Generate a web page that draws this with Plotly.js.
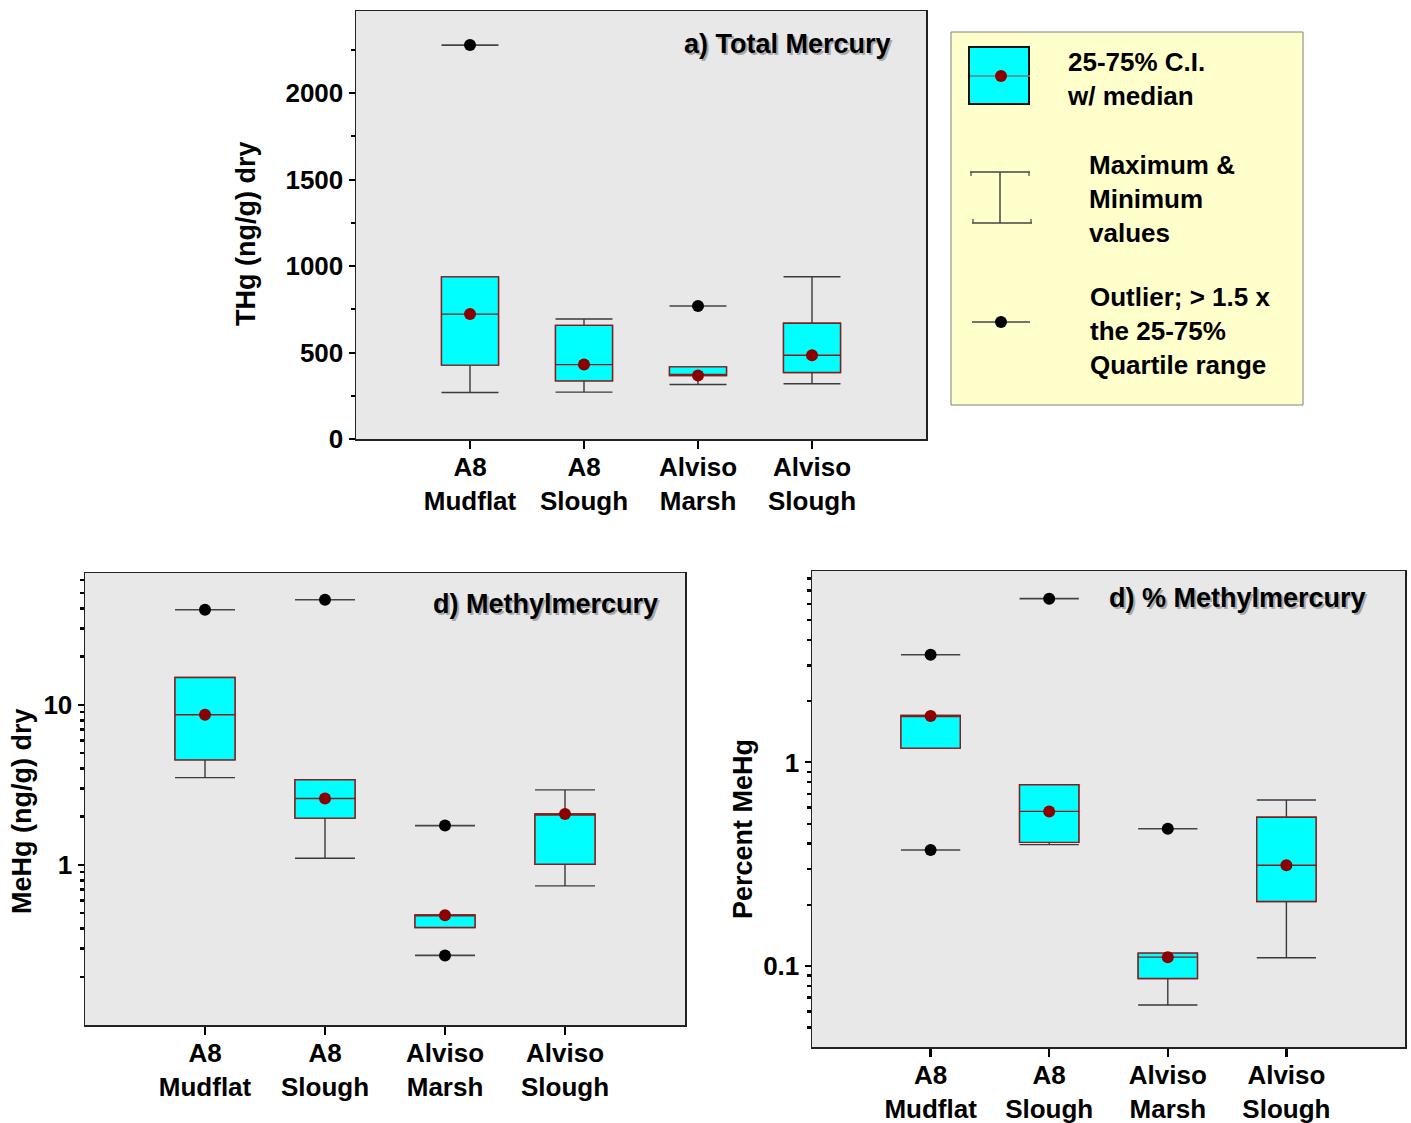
<!DOCTYPE html>
<html>
<head>
<meta charset="utf-8">
<script src="https://cdn.plot.ly/plotly-3.0.1.min.js"></script>
<style>html,body{margin:0;padding:0;background:#fff;}#chart{width:1411px;height:1123px;}</style>
</head>
<body>
<div id="chart"></div>
<script>
// ---------- DATA ----------
const categories = ['A8 Mudflat', 'A8 Slough', 'Alviso Marsh', 'Alviso Slough'];

// a) Total Mercury, THg (ng/g) dry
const thgMin = [269, 271, 315, 319];
const thgQ1  = [427, 336, 367, 384];
const thgMed = [722, 430, 367, 484];
const thgQ3  = [937, 657, 417, 669];
const thgMax = [937, 694, 417, 938];
const thgOutCat = ['A8 Mudflat', 'Alviso Marsh'];
const thgOutVal = [2277, 769];

// d) Methylmercury, MeHg (ng/g) dry
const mehgMin = [3.51, 1.10, 0.406, 0.739];
const mehgQ1  = [4.53, 1.96, 0.406, 1.01];
const mehgMed = [8.66, 2.60, 0.485, 2.08];
const mehgQ3  = [14.8, 3.40, 0.487, 2.08];
const mehgMax = [14.8, 3.40, 0.487, 2.94];
const mehgOutCat = ['A8 Mudflat', 'A8 Slough', 'Alviso Marsh', 'Alviso Marsh'];
const mehgOutVal = [39.2, 45.3, 1.76, 0.272];

// d) % Methylmercury
const pctMin = [1.176, 0.395, 0.0644, 0.110];
const pctQ1  = [1.176, 0.405, 0.087, 0.2075];
const pctMed = [1.69, 0.575, 0.1107, 0.313];
const pctQ3  = [1.70, 0.777, 0.1158, 0.538];
const pctMax = [1.70, 0.777, 0.1158, 0.654];
const pctOutCat = ['A8 Mudflat', 'A8 Mudflat', 'A8 Slough', 'Alviso Marsh'];
const pctOutVal = [3.38, 0.372, 6.37, 0.473];

// Axis tick labels
const thgTicks = [0, 500, 1000, 1500, 2000];
const mehgTicks = [1, 10];
const pctTicks = [0.1, 1];
const panelTitles = ['a) Total Mercury', 'd) Methylmercury', 'd) % Methylmercury'];
const yTitles = ['THg (ng/g) dry', 'MeHg (ng/g) dry', 'Percent MeHg'];
const legendLabels = ['25-75% C.I.<br>w/ median', 'Maximum &<br>Minimum<br>values', 'Outlier; > 1.5 x<br>the 25-75%<br>Quartile range'];

// ---------- HELPERS ----------
const W = 1411, H = 1123;
const px = x => x / W;
const py = y => 1 - y / H;
const FONT = 'Liberation Sans, Arial, sans-serif';
const FS = 26;
const idx = categories.map((c, i) => i);
const tickText = categories.map(c => c.replace(' ', '<br>'));
const CYAN = '#00FFFF', DARKRED = '#8B0000';

function boxTraces(xa, ya, q1, med, q3, lo, hi, outCat, outVal) {
  return [
    { // whiskers
      type: 'box', xaxis: xa, yaxis: ya, x: idx, q1: q1, median: med, q3: q3,
      lowerfence: lo, upperfence: hi, width: 0.5, whiskerwidth: 1,
      fillcolor: 'rgba(0,0,0,0)', line: {color: '#3a3a3a', width: 1.4},
      boxpoints: false, showlegend: false, hoverinfo: 'skip'
    },
    { // box
      type: 'box', xaxis: xa, yaxis: ya, x: idx, q1: q1, median: med, q3: q3,
      lowerfence: q1, upperfence: q3, width: 0.5, whiskerwidth: 0,
      fillcolor: CYAN, line: {color: '#8B1A1A', width: 1.4},
      boxpoints: false, showlegend: false
    },
    { // median dots
      type: 'scatter', mode: 'markers', xaxis: xa, yaxis: ya, x: idx, y: med,
      marker: {color: DARKRED, size: 12}, showlegend: false
    },
    { // outliers
      type: 'scatter', mode: 'markers', xaxis: xa, yaxis: ya,
      x: outCat.map(c => categories.indexOf(c)), y: outVal,
      marker: {color: '#000', size: 12},
      error_x: {type: 'constant', value: 0.25, width: 0, color: '#444', thickness: 1.6},
      showlegend: false
    }
  ];
}

const data = [].concat(
  boxTraces('x', 'y', thgQ1, thgMed, thgQ3, thgMin, thgMax, thgOutCat, thgOutVal),
  boxTraces('x2', 'y2', mehgQ1, mehgMed, mehgQ3, mehgMin, mehgMax, mehgOutCat, mehgOutVal),
  boxTraces('x3', 'y3', pctQ1, pctMed, pctQ3, pctMin, pctMax, pctOutCat, pctOutVal)
);

function minorLog(lo, hi) {
  const v = [];
  for (let d = -3; d <= 3; d++) for (let m = 2; m <= 9; m++) {
    const t = m * Math.pow(10, d);
    if (t > lo && t < hi) v.push(t);
  }
  return v;
}

const tickFont = {family: FONT, size: FS, color: '#000', weight: 700};
function xAxis(domain, anchor) {
  return {
    domain: domain, anchor: anchor, range: [-1, 4], tickmode: 'array', tickvals: idx, ticktext: tickText,
    ticks: 'outside', ticklen: 8, tickwidth: 2.5, tickcolor: '#000', tickfont: tickFont,
    ticklabelstandoff: -4,
    showline: true, linecolor: '#222', linewidth: 1.5, mirror: true,
    showgrid: false, zeroline: false, fixedrange: true
  };
}
function yAxisBase(domain, anchor) {
  return {
    domain: domain, anchor: anchor, ticks: 'outside', ticklen: 6, tickwidth: 2, tickcolor: '#000',
    tickfont: tickFont, showline: true, linecolor: '#222', linewidth: 1.5, mirror: true,
    showgrid: false, zeroline: false, fixedrange: true
  };
}

const layout = {
  width: W, height: H, margin: {l: 0, r: 0, t: 0, b: 0},
  paper_bgcolor: '#fff', plot_bgcolor: '#E8E8E8',
  font: {family: FONT, size: FS, color: '#000', weight: 700},
  boxmode: 'overlay', showlegend: false,
  xaxis: xAxis([px(356), px(926)], 'y'),
  yaxis: Object.assign(yAxisBase([py(439), py(11)], 'x'), {
    range: [0, 2474], tickmode: 'array', tickvals: thgTicks,
    minor: {tickmode: 'linear', tick0: 0, dtick: 250, ticks: 'outside', ticklen: 4, tickwidth: 2, tickcolor: '#000', showgrid: false}
  }),
  xaxis2: xAxis([px(85), px(685)], 'y2'),
  yaxis2: Object.assign(yAxisBase([py(1025), py(573)], 'x2'), {
    type: 'log', range: [-1, 1.823], tickmode: 'array', tickvals: mehgTicks,
    minor: {tickmode: 'array', tickvals: minorLog(0.1, 66), ticks: 'outside', ticklen: 4, tickwidth: 2.5, tickcolor: '#000', showgrid: false}
  }),
  xaxis3: xAxis([px(812), px(1405)], 'y3'),
  yaxis3: Object.assign(yAxisBase([py(1047), py(571)], 'x3'), {
    type: 'log', range: [-1.397, 0.94], tickmode: 'array', tickvals: pctTicks, ticktext: ['0.1', '1'],
    minor: {tickmode: 'array', tickvals: minorLog(0.04, 8.7), ticks: 'outside', ticklen: 4, tickwidth: 2.5, tickcolor: '#000', showgrid: false}
  }),
  shapes: [],
  annotations: []
};

// Panel titles (with soft shadow)
const titlePos = [[893, 44], [660, 604], [1368, 598]];
panelTitles.forEach((t, i) => {
  const [x, y] = titlePos[i];
  layout.annotations.push({xref: 'paper', yref: 'paper', x: px(x + 2), y: py(y + 2), text: t, showarrow: false,
    xanchor: 'right', yanchor: 'middle', font: {family: FONT, size: 27, color: '#a8a8a8', weight: 700}});
  layout.annotations.push({xref: 'paper', yref: 'paper', x: px(x), y: py(y), text: t, showarrow: false,
    xanchor: 'right', yanchor: 'middle', font: {family: FONT, size: 27, color: '#000', weight: 700}});
});

// Y axis titles
const yTitlePos = [[246, 234], [22, 812], [743, 829]];
yTitles.forEach((t, i) => {
  const [x, y] = yTitlePos[i];
  layout.annotations.push({xref: 'paper', yref: 'paper', x: px(x), y: py(y), text: t, showarrow: false,
    textangle: -90, xanchor: 'center', yanchor: 'middle', font: {family: FONT, size: 27, color: '#000', weight: 700}});
});

// Legend box
const S = layout.shapes;
const line = (x0, y0, x1, y1, c, w) => S.push({type: 'line', xref: 'paper', yref: 'paper', x0: px(x0), y0: py(y0), x1: px(x1), y1: py(y1), line: {color: c, width: w}});
S.push({type: 'rect', xref: 'paper', yref: 'paper', x0: px(951), y0: py(405), x1: px(1303), y1: py(32), fillcolor: '#FFFFCC', line: {color: '#7f7f7f', width: 1}, layer: 'below'});
S.push({type: 'rect', xref: 'paper', yref: 'paper', x0: px(969), y0: py(104), x1: px(1029), y1: py(47), fillcolor: CYAN, line: {color: '#111', width: 2}});
line(970, 76, 1030, 76, '#7a7a7a', 1.5);
S.push({type: 'circle', xref: 'paper', yref: 'paper', x0: px(995), y0: py(82), x1: px(1007), y1: py(70), fillcolor: DARKRED, line: {color: DARKRED, width: 0}});
line(1000, 172, 1000, 223, '#444', 1.5);
line(970, 172, 1030, 172, '#444', 1.5);
line(972, 223, 1032, 223, '#444', 1.5);
line(971, 172, 971, 176, '#444', 1.2);
line(1029, 172, 1029, 176, '#444', 1.2);
line(973, 219, 973, 223, '#444', 1.2);
line(1031, 219, 1031, 223, '#444', 1.2);
line(972, 322, 1030, 322, '#444', 1.5);
S.push({type: 'circle', xref: 'paper', yref: 'paper', x0: px(995), y0: py(328), x1: px(1007), y1: py(316), fillcolor: '#000', line: {color: '#000', width: 0}});

const legPos = [[1065, 79], [1087, 199], [1088, 331]];
legendLabels.forEach((t, i) => {
  const [x, y] = legPos[i];
  layout.annotations.push({xref: 'paper', yref: 'paper', x: px(x), y: py(y), text: t, showarrow: false,
    xanchor: 'left', yanchor: 'middle', align: 'left', font: {family: FONT, size: FS, color: '#000', weight: 700}});
});

Plotly.newPlot('chart', data, layout, {staticPlot: true, displayModeBar: false});
</script>
</body>
</html>
